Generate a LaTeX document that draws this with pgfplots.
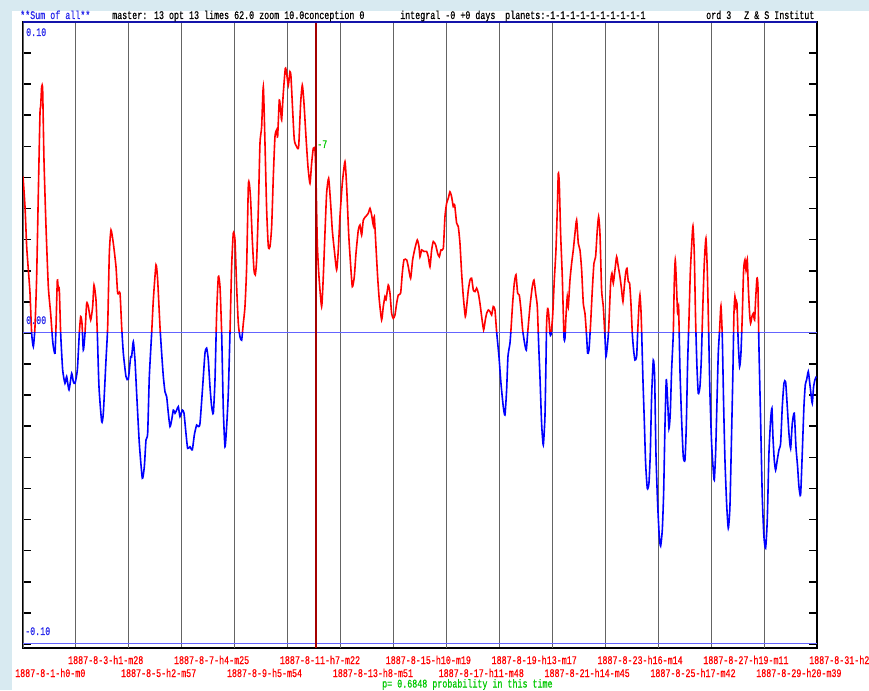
\documentclass[border=0pt]{standalone}
\usepackage{pgfplots}
\pgfplotsset{compat=1.18}
\usepackage{pgfplotstable}
\usepackage{fontspec}
\setmainfont{Liberation Mono}
\newfontfamily\mono[FakeStretch=0.72,FakeBold=0.6]{Liberation Mono}
\newcommand\lab{\mono\fontsize{11.6}{12}\selectfont}
\definecolor{bgblue}{RGB}{216,234,241}
\definecolor{gridgray}{RGB}{100,100,100}
\definecolor{zeroblue}{RGB}{100,100,255}
\definecolor{topblue}{RGB}{20,20,170}
\definecolor{curvered}{RGB}{255,0,0}
\definecolor{curveblue}{RGB}{0,0,255}
\definecolor{markred}{RGB}{165,0,0}
\definecolor{labgreen}{RGB}{0,200,0}
\definecolor{labblue}{RGB}{40,40,235}

\pgfplotstableread{
d v
0 0.0503
0.076 0.0406
0.139 0.0278
0.202 0.0203
0.265 0.0128
0.327 -0.0001
0.390 -0.0044
0.453 0.0020
0.516 0.0181
0.579 0.0449
0.642 0.0706
0.668 0.0728
0.705 0.0792
0.743 0.0781
0.793 0.0556
0.869 0.0342
0.957 0.0149
1.045 0.0063
1.108 -0.0012
1.146 -0.0044
1.209 -0.0065
1.247 0.0020
1.297 0.0170
1.335 0.0138
1.373 0.0138
1.423 -0.0001
1.499 -0.0119
1.587 -0.0162
1.650 -0.0140
1.738 -0.0183
1.839 -0.0130
1.902 -0.0157
1.965 -0.0162
2.053 -0.0119
2.128 -0.0001
2.179 0.0053
2.229 0.0031
2.279 -0.0055
2.342 -0.0001
2.405 0.0095
2.468 0.0085
2.557 0.0042
2.632 0.0085
2.682 0.0154
2.758 0.0106
2.808 -0.0001
2.871 -0.0173
2.972 -0.0285
3.035 -0.0258
3.136 -0.0087
3.199 0.0020
3.262 0.0256
3.325 0.0331
3.413 0.0288
3.514 0.0213
3.577 0.0128
3.665 0.0128
3.728 0.0020
3.791 -0.0065
3.891 -0.0140
3.979 -0.0149
4.068 -0.0076
4.105 -0.0076
4.168 -0.0028
4.231 -0.0087
4.294 -0.0194
4.395 -0.0355
4.508 -0.0467
4.584 -0.0430
4.647 -0.0344
4.710 -0.0323
4.773 -0.0140
4.861 -0.0001
4.924 0.0106
5.025 0.0219
5.088 0.0170
5.176 0.0020
5.239 -0.0065
5.302 -0.0140
5.365 -0.0189
5.428 -0.0205
5.491 -0.0258
5.554 -0.0301
5.617 -0.0280
5.680 -0.0248
5.743 -0.0258
5.806 -0.0248
5.869 -0.0237
5.932 -0.0269
6.020 -0.0248
6.083 -0.0258
6.158 -0.0323
6.221 -0.0371
6.309 -0.0366
6.397 -0.0376
6.473 -0.0328
6.561 -0.0296
6.624 -0.0301
6.687 -0.0291
6.788 -0.0173
6.876 -0.0065
6.939 -0.0049
7.002 -0.0087
7.065 -0.0173
7.128 -0.0237
7.191 -0.0258
7.254 -0.0151
7.317 0.0063
7.380 0.0181
7.443 0.0149
7.506 -0.0001
7.569 -0.0248
7.632 -0.0366
7.694 -0.0301
7.757 -0.0194
7.820 -0.0001
7.883 0.0213
7.946 0.0321
8.009 0.0299
8.072 0.0149
8.135 0.0031
8.198 -0.0012
8.261 -0.0023
8.324 0.0031
8.387 0.0085
8.450 0.0213
8.513 0.0471
8.551 0.0481
8.601 0.0428
8.664 0.0299
8.727 0.0203
8.777 0.0187
8.828 0.0235
8.891 0.0396
8.954 0.0610
9.017 0.0663
9.080 0.0792
9.143 0.0610
9.206 0.0396
9.269 0.0278
9.332 0.0278
9.395 0.0342
9.458 0.0503
9.520 0.0631
9.583 0.0653
9.621 0.0631
9.684 0.0749
9.735 0.0717
9.772 0.0685
9.835 0.0771
9.911 0.0851
9.961 0.0835
10.024 0.0797
10.087 0.0840
10.125 0.0824
10.188 0.0717
10.251 0.0621
10.339 0.0599
10.415 0.0599
10.490 0.0739
10.553 0.0797
10.616 0.0739
10.692 0.0631
10.767 0.0535
10.843 0.0481
10.906 0.0546
10.969 0.0594
11.032 0.0588
11.069 0.0503
11.120 0.0288
11.183 0.0181
11.283 0.0085
11.346 0.0181
11.409 0.0321
11.472 0.0449
11.548 0.0497
11.623 0.0417
11.686 0.0331
11.762 0.0267
11.850 0.0203
11.913 0.0267
11.976 0.0374
12.064 0.0481
12.165 0.0551
12.228 0.0471
12.304 0.0321
12.366 0.0235
12.442 0.0149
12.518 0.0181
12.581 0.0256
12.669 0.0331
12.732 0.0347
12.795 0.0315
12.858 0.0363
12.946 0.0374
13.047 0.0385
13.110 0.0401
13.173 0.0379
13.235 0.0347
13.273 0.0374
13.336 0.0278
13.399 0.0181
13.462 0.0106
13.550 0.0042
13.613 0.0085
13.676 0.0117
13.714 0.0106
13.802 0.0154
13.865 0.0128
13.928 0.0063
13.991 0.0047
14.054 0.0058
14.117 0.0095
14.180 0.0122
14.268 0.0128
14.331 0.0192
14.394 0.0235
14.495 0.0235
14.558 0.0213
14.646 0.0176
14.721 0.0235
14.809 0.0272
14.898 0.0299
14.961 0.0278
14.999 0.0245
15.062 0.0267
15.150 0.0262
15.251 0.0262
15.314 0.0245
15.377 0.0213
15.440 0.0267
15.503 0.0294
15.591 0.0283
15.666 0.0256
15.729 0.0245
15.792 0.0267
15.881 0.0272
15.943 0.0374
16.006 0.0417
16.069 0.0433
16.132 0.0454
16.195 0.0438
16.258 0.0406
16.309 0.0412
16.384 0.0353
16.447 0.0342
16.510 0.0288
16.573 0.0192
16.636 0.0117
16.712 0.0053
16.762 0.0085
16.825 0.0138
16.888 0.0170
16.951 0.0176
17.014 0.0138
17.077 0.0133
17.140 0.0144
17.203 0.0128
17.266 0.0095
17.329 0.0053
17.404 0.0010
17.467 0.0042
17.518 0.0063
17.581 0.0074
17.644 0.0069
17.706 0.0058
17.769 0.0085
17.832 0.0074
17.895 0.0004
17.984 -0.0076
18.059 -0.0162
18.147 -0.0237
18.210 -0.0264
18.273 -0.0183
18.323 -0.0076
18.399 -0.0033
18.437 0.0010
18.500 0.0095
18.563 0.0160
18.626 0.0187
18.689 0.0128
18.752 0.0122
18.815 0.0074
18.878 0.0010
18.953 -0.0033
19.016 -0.0055
19.067 -0.0001
19.155 0.0085
19.243 0.0149
19.306 0.0170
19.369 0.0128
19.432 0.0085
19.482 -0.0033
19.532 -0.0140
19.595 -0.0291
19.658 -0.0360
19.721 -0.0269
19.759 -0.0098
19.784 0.0031
19.822 0.0079
19.860 0.0063
19.910 -0.0001
19.948 -0.0006
20.011 0.0053
20.074 0.0170
20.137 0.0267
20.187 0.0396
20.225 0.0513
20.263 0.0481
20.313 0.0320
20.376 0.0181
20.439 -0.0012
20.477 -0.0017
20.515 0.0053
20.565 0.0117
20.603 0.0085
20.666 0.0170
20.729 0.0224
20.792 0.0267
20.855 0.0320
20.918 0.0363
20.981 0.0288
21.044 0.0267
21.107 0.0203
21.170 0.0095
21.233 0.0063
21.296 -0.0012
21.333 -0.0065
21.384 -0.0055
21.447 0.0031
21.510 0.0138
21.572 0.0224
21.635 0.0245
21.698 0.0331
21.749 0.0374
21.799 0.0320
21.862 0.0138
21.925 0.0085
21.988 -0.0012
22.026 -0.0076
22.076 -0.0044
22.127 0.0010
22.202 0.0160
22.252 0.0192
22.303 0.0160
22.366 0.0203
22.429 0.0245
22.492 0.0213
22.555 0.0181
22.618 0.0138
22.668 0.0101
22.719 0.0149
22.769 0.0192
22.819 0.0208
22.870 0.0165
22.920 0.0160
22.970 0.0095
23.021 -0.0001
23.071 -0.0055
23.122 -0.0087
23.185 -0.0076
23.222 -0.0001
23.273 0.0085
23.310 0.0122
23.348 0.0074
23.373 0.0010
23.424 -0.0151
23.474 -0.0280
23.525 -0.0419
23.588 -0.0500
23.650 -0.0483
23.701 -0.0387
23.751 -0.0205
23.814 -0.0087
23.865 -0.0140
23.915 -0.0387
23.978 -0.0548
24.041 -0.0655
24.091 -0.0685
24.154 -0.0634
24.205 -0.0516
24.255 -0.0301
24.305 -0.0151
24.356 -0.0216
24.406 -0.0307
24.456 -0.0258
24.507 -0.0119
24.570 -0.0001
24.607 0.0160
24.645 0.0235
24.683 0.0170
24.733 0.0063
24.771 0.0085
24.822 -0.0119
24.885 -0.0280
24.948 -0.0398
25.011 -0.0408
25.061 -0.0301
25.111 -0.0098
25.162 0.0042
25.212 0.0192
25.262 0.0278
25.313 0.0344
25.363 0.0256
25.413 0.0042
25.464 -0.0108
25.514 -0.0194
25.577 -0.0173
25.628 -0.0087
25.678 0.0063
25.741 0.0224
25.804 0.0304
25.854 0.0203
25.905 0.0010
25.955 -0.0194
26.018 -0.0355
26.081 -0.0441
26.119 -0.0473
26.169 -0.0387
26.219 -0.0226
26.270 -0.0065
26.320 0.0010
26.371 0.0087
26.421 -0.0012
26.471 -0.0226
26.522 -0.0408
26.585 -0.0548
26.648 -0.0628
26.710 -0.0558
26.773 -0.0323
26.824 -0.0119
26.862 0.0063
26.899 0.0117
26.937 0.0085
26.975 0.0095
27.025 -0.0033
27.076 -0.0108
27.126 -0.0065
27.176 0.0053
27.227 0.0203
27.277 0.0235
27.315 0.0203
27.365 0.0237
27.403 0.0149
27.453 0.0063
27.491 0.0031
27.542 0.0053
27.592 0.0063
27.642 0.0042
27.680 0.0106
27.731 0.0176
27.768 0.0149
27.806 -0.0044
27.869 -0.0280
27.932 -0.0526
27.995 -0.0655
28.058 -0.0692
28.121 -0.0601
28.184 -0.0387
28.247 -0.0280
28.297 -0.0242
28.335 -0.0333
28.385 -0.0408
28.436 -0.0441
28.499 -0.0408
28.562 -0.0376
28.625 -0.0355
28.688 -0.0237
28.751 -0.0162
28.814 -0.0157
28.877 -0.0237
28.940 -0.0323
29.003 -0.0371
29.066 -0.0291
29.141 -0.0258
29.204 -0.0366
29.267 -0.0430
29.317 -0.0494
29.380 -0.0521
29.443 -0.0387
29.506 -0.0237
29.557 -0.0167
29.607 -0.0151
29.670 -0.0124
29.720 -0.0157
29.770 -0.0194
29.821 -0.0226
29.871 -0.0173
29.921 -0.0151
29.972 -0.0140
}\curve

\begin{document}
\begin{tikzpicture}
\fill[bgblue] (0pt,0pt) rectangle (869pt,690pt);
\fill[white] (12pt,0pt) rectangle (869pt,679pt);
\begin{axis}[
  at={(23pt,42pt)}, anchor=south west,
  scale only axis, width=794pt, height=626pt,
  xmin=0, xmax=30, ymin=-0.1013, ymax=0.1,
  axis line style={black, line width=1.4pt},
  xtick={2,6,10,14,18,22,26,30},
  xticklabels={1887-8-3-h1-m28,1887-8-7-h4-m25,1887-8-11-h7-m22,1887-8-15-h10-m19,1887-8-19-h13-m17,1887-8-23-h16-m14,1887-8-27-h19-m11,1887-8-31-h22-m8},
  extra x ticks={0,4,8,12,16,20,24,28},
  extra x tick labels={1887-8-1-h0-m0,1887-8-5-h2-m57,1887-8-9-h5-m54,1887-8-13-h8-m51,1887-8-17-h11-m48,1887-8-21-h14-m45,1887-8-25-h17-m42,1887-8-29-h20-m39},
  extra x tick style={grid=major, xtick style={draw=none}, xticklabel style={yshift=-13pt}},
  xmajorgrids,
  grid style={gridgray, line width=0.9pt},
  xtick style={draw=none},
  xticklabel style={font=\lab, text=red, anchor=base west, inner sep=0pt, xshift=-8pt, yshift=-16pt},
  ytick={-0.1,-0.09,-0.08,-0.07,-0.06,-0.05,-0.04,-0.03,-0.02,-0.01,0,0.01,0.02,0.03,0.04,0.05,0.06,0.07,0.08,0.09,0.1},
  yticklabel=\empty,
  ytick style={black, line width=1.6pt},
  major tick length=8pt, tick align=inside, ytick pos=both,
]
\addplot[zeroblue, line width=1pt] coordinates {(0,0) (30,0)};
\addplot[zeroblue, line width=1pt] coordinates {(0,-0.1) (30,-0.1)};
\begin{scope}
\clip (axis cs:0,0) rectangle (axis cs:30,0.12);
\addplot[curvered, line width=1.6pt, smooth, tension=0.35] table[x=d,y=v] {\curve};
\end{scope}
\begin{scope}
\clip (axis cs:0,-0.12) rectangle (axis cs:30,0);
\addplot[curveblue, line width=1.6pt, smooth, tension=0.35] table[x=d,y=v] {\curve};
\end{scope}
\addplot[markred, line width=1.6pt] coordinates {(11.07,-0.1013) (11.07,0.1)};
\addplot[topblue, line width=1.5pt] coordinates {(0,0.1) (30,0.1)};
\end{axis}
\tikzset{lbl/.style={anchor=base west, inner sep=0pt, font=\lab}}
\node[lbl, text=labblue] at (20pt,671pt) {**Sum of all**};
\node[lbl] at (112pt,671pt) {master: 13 opt 13 limes 62.0 zoom 10.0conception 0};
\node[lbl] at (400pt,671pt) {integral -0 +0 days};
\node[lbl] at (505pt,671pt) {planets:-1-1-1-1-1-1-1-1-1-1};
\node[lbl] at (706pt,671pt) {ord 3};
\node[lbl] at (744pt,671pt) {Z \& S Institut};
\node[lbl, text=labblue] at (26pt,654pt) {0.10};
\node[lbl, text=labblue] at (26pt,366pt) {0.00};
\node[lbl, text=labblue] at (25pt,55pt) {-0.10};
\node[lbl, text=labgreen] at (317pt,542pt) {-7};
\node[lbl, text=labgreen] at (382pt,2.5pt) {p= 0.6848 probability in this time};
\pgfresetboundingbox
\useasboundingbox (0pt,0pt) rectangle (869pt,690pt);
\end{tikzpicture}
\end{document}
